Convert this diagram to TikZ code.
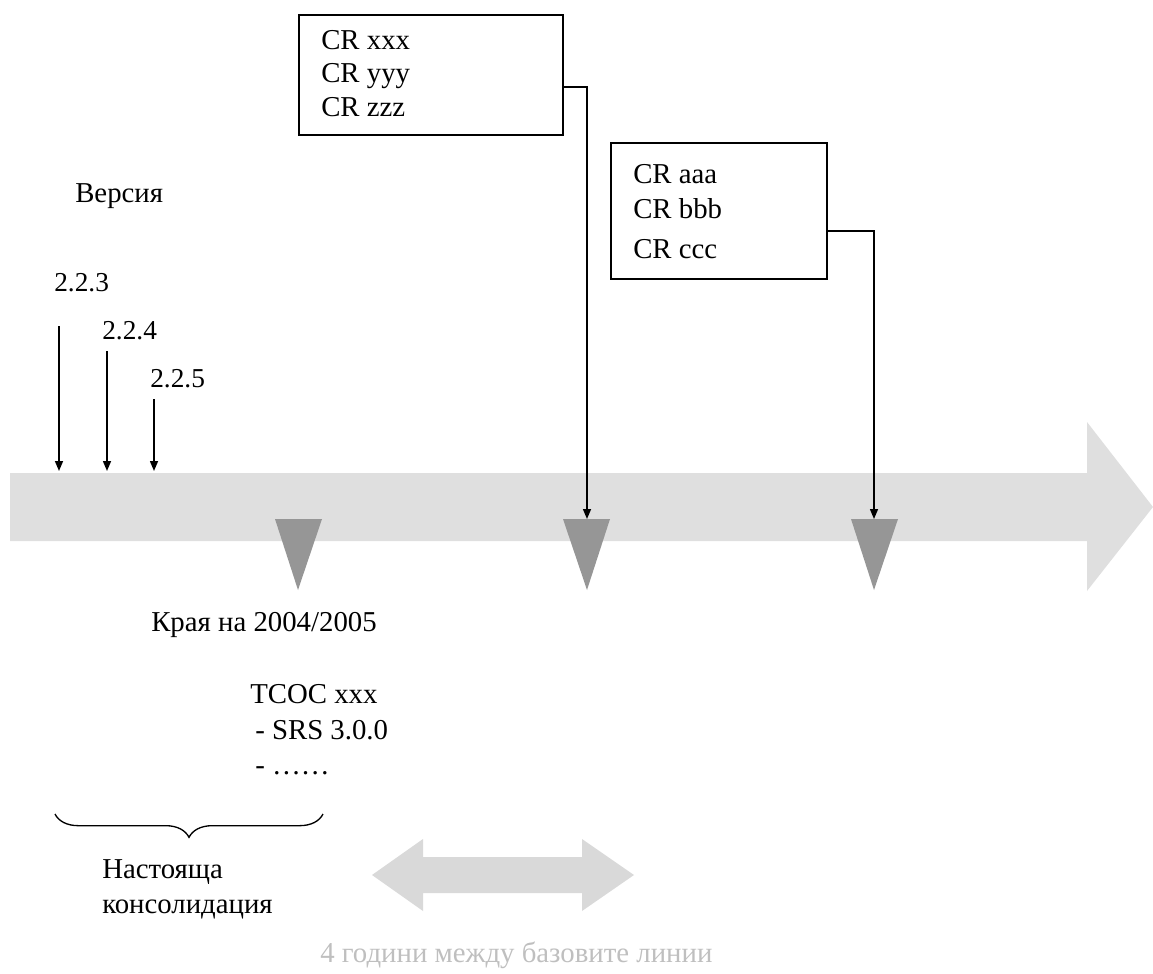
\documentclass[tikz,border=0pt]{standalone}
\usepackage{fontspec}
\setmainfont{Liberation Serif}
\usetikzlibrary{arrows.meta,decorations.pathreplacing}
\definecolor{shaftgray}{HTML}{DFDFDF}
\definecolor{markgray}{HTML}{969696}
\definecolor{dblgray}{HTML}{D9D9D9}
\definecolor{notegray}{HTML}{BFBFBF}
\begin{document}
\begin{tikzpicture}[x=0.75pt,y=-0.75pt,
  txt/.style={anchor=base west, inner sep=0pt, font=\fontsize{21.6}{26}\selectfont},
  vlbl/.style={anchor=base west, inner sep=0pt, font=\fontsize{20.5}{24}\selectfont},
  crbox/.style={draw, line width=1.1pt, inner sep=0pt},
  conn/.style={line width=1.1pt, -{Triangle[length=7.5pt,width=6pt]}},
  elbow/.style={line width=1.1pt, -{Triangle[length=7.5pt,width=6pt]}}]
\useasboundingbox (0,0) rectangle (1153,974);

% main timeline arrow
\fill[shaftgray] (10,473) -- (1087,473) -- (1087,422) -- (1153,507) -- (1087,591) -- (1087,541) -- (10,541) -- cycle;

% milestone markers
\coordinate (m1top) at (298,519);
\coordinate (m2top) at (587,519);
\coordinate (m3top) at (874,519);
\fill[markgray] (275,519) -- (322,519) -- (298,590) -- cycle;
\fill[markgray] (563,519) -- (610,519) -- (587,590) -- cycle;
\fill[markgray] (851,519) -- (898,519) -- (874,590) -- cycle;

% version labels and arrows
\node[txt] (ver) at (75,202) {Версия};
\node[vlbl] (v223) at (54,291) {2.2.3};
\node[vlbl] (v224) at (102,339) {2.2.4};
\node[vlbl] (v225) at (150,387) {2.2.5};
\coordinate (a1s) at (59,326);  \coordinate (a1e) at (59,471);
\coordinate (a2s) at (107,351); \coordinate (a2e) at (107,471);
\coordinate (a3s) at (154,399); \coordinate (a3e) at (154,471);
\draw[conn] (a1s) -- (a1e);
\draw[conn] (a2s) -- (a2e);
\draw[conn] (a3s) -- (a3e);

% CR boxes
\node[crbox, minimum width=198pt, minimum height=90pt] (b1) at (431,75) {};
\node[txt] (b1l1) at (321,50) {CR xxx};
\node[txt] (b1l2) at (321,83) {CR yyy};
\node[txt] (b1l3) at (321,117) {CR zzz};

\node[crbox, minimum width=162pt, minimum height=102pt] (b2) at (719,211) {};
\node[txt] (b2l1) at (633,183) {CR aaa};
\node[txt] (b2l2) at (633,218) {CR bbb};
\node[txt] (b2l3) at (633,258) {CR ccc};

\draw[elbow] ([yshift=-9pt]b1.east) -| (m2top);
\draw[elbow] ([yshift=-15pt]b2.east) -| (m3top);

% lower texts
\node[txt] (kraya) at (151,631) {Края на 2004/2005};
\node[txt] (tcoc) at (250,703) {TCOC xxx};
\node[txt] (srs) at (255,739) {- SRS 3.0.0};
\node[txt] (dots) at (255,774) {- ……};

% brace
\coordinate (br1) at (55,814);
\coordinate (br2) at (323,814);
\draw[line width=1pt, decorate, decoration={brace, mirror, amplitude=17.5pt}] (br1) -- (br2);

\node[txt] (nast) at (102,878) {Настояща};
\node[txt] (kons) at (102,913) {консолидация};

% double arrow
\fill[dblgray] (372,875) -- (423,839) -- (423,857) -- (582,857) -- (582,839) -- (634,875) -- (582,911) -- (582,893) -- (423,893) -- (423,911) -- cycle;
\node[txt, text=notegray] (years) at (320,962) {4 години между базовите линии};
\end{tikzpicture}
\end{document}
